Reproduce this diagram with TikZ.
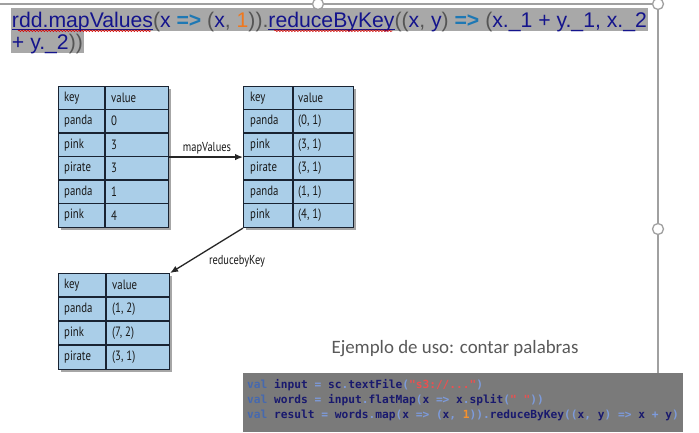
\documentclass[tikz,border=0pt]{standalone}
\usepackage{fontspec}
\setmainfont{Liberation Sans}
\newfontfamily\tabfont[FakeStretch=0.8]{PT Sans}
\newfontfamily\codefont{DejaVu Sans Mono}
\newfontfamily\slidefont{Carlito}
\usetikzlibrary{arrows.meta,shadows,calc,decorations.pathmorphing,backgrounds}
\definecolor{navyt}{RGB}{20,20,140}
\definecolor{grayt}{RGB}{85,85,85}
\definecolor{arrowt}{RGB}{30,120,180}
\definecolor{oranget}{RGB}{240,120,30}
\definecolor{hl}{RGB}{168,168,168}
\definecolor{framec}{RGB}{160,160,160}
\definecolor{tblfill}{RGB}{170,206,232}
\definecolor{tblline}{RGB}{25,35,50}
\definecolor{codebg}{RGB}{122,122,122}
\definecolor{ckw}{RGB}{70,105,175}
\definecolor{cid}{RGB}{25,25,110}
\definecolor{cop}{RGB}{125,155,220}
\definecolor{cstr}{RGB}{235,80,80}
\definecolor{cnum}{RGB}{245,145,45}
\definecolor{ctext}{RGB}{89,89,89}
\tikzset{
  titlepart/.style={inner sep=0pt, outer sep=0pt, anchor=base west, font=\fontsize{21.2}{23}\selectfont},
  handle/.style={circle, draw=framec, fill=white, line width=1.3pt, minimum size=11pt, inner sep=0pt},
  tbl/.style={draw=tblline, line width=1.1pt, fill=tblfill, inner sep=0pt, anchor=north west,
    drop shadow={shadow xshift=2pt, shadow yshift=-2.5pt, opacity=0.35, fill=black}},
  gridline/.style={draw=tblline, line width=1.1pt},
  cell/.style={inner sep=0pt, anchor=west, font=\tabfont\fontsize{13.5}{15}\selectfont, text=black!90},
  lbl/.style={inner sep=0pt, font=\tabfont\fontsize{13}{15}\selectfont, text=black!90},
  conn/.style={line width=1.3pt, draw=black!85, -{Latex[length=8pt,width=6.5pt]}},
  codeline/.style={inner sep=0pt, anchor=base west, font=\codefont\bfseries\fontsize{11.2}{13}\selectfont},
}
\begin{document}
\begin{tikzpicture}[x=1pt,y=-1pt]
\useasboundingbox (0,0) rectangle (699,432);

% title text
\node[titlepart] (ta) at (12,27) {\textcolor{navyt}{rdd.mapValues}};
\node[titlepart] (tb) at (ta.base east) {\textcolor{grayt}{(}\textcolor{navyt}{x} \textcolor{arrowt}{\textbf{=>}} \textcolor{grayt}{(}\textcolor{navyt}{x}\textcolor{grayt}{,} \textcolor{oranget}{1}\textcolor{grayt}{)).}};
\node[titlepart] (tc) at (tb.base east) {\textcolor{navyt}{reduceByKey}};
\node[titlepart] (td) at (tc.base east) {\textcolor{grayt}{((}\textcolor{navyt}{x}\textcolor{grayt}{,} \textcolor{navyt}{y}\textcolor{grayt}{)} \textcolor{arrowt}{\textbf{=>}} \textcolor{grayt}{(}\textcolor{navyt}{x.\_1 + y.\_1, x.\_2}};
\node[titlepart] (te) at (12,49) {\textcolor{navyt}{+ y.\_2}\textcolor{grayt}{))}};
\begin{scope}[on background layer]
  \fill[white] (0,0) rectangle (699,432);
  \fill[hl] ($(ta.base west)+(-1,-19)$) rectangle ($(td.base east)+(1,4)$);
  \fill[hl] ($(te.base west)+(-1,-18)$) rectangle ($(te.base east)+(1,4)$);
\end{scope}
\foreach \w in {ta,tc} {
  \draw[navyt, line width=0.7pt] ($(\w.base west)+(0,2)$) -- ($(\w.base east)+(0,2)$);
  \draw[red!85!black, line width=0.6pt, decorate, decoration={snake, amplitude=0.8pt, segment length=3pt}]
    ($(\w.base west)+(6,3.8)$) -- ($(\w.base east)+(-2,3.8)$);
}

% slide frame
\draw[framec, line width=1.3pt] (0,4) -- (658,4) -- (658,432);
\node[handle] (h1) at (318,4) {};
\node[handle] (h2) at (658,4) {};
\node[handle] (h3) at (658,229) {};

% table 1
\node[tbl, minimum width=110pt, minimum height=141pt] (T1) at (58,86) {};
\draw[gridline] (105,86) -- (105,227);
\foreach \i in {1,...,5} \draw[gridline] (58,{86+23.5*\i}) -- (168,{86+23.5*\i});
\foreach [count=\i from 0] \k/\v in {key/value, panda/0, pink/3, pirate/3, panda/1, pink/4} {
  \node[cell] (T1k\i) at (64,{97.75+23.5*\i}) {\k};
  \node[cell] (T1v\i) at (111,{97.75+23.5*\i}) {\v};
}

% table 2
\node[tbl, minimum width=110pt, minimum height=141pt] (T2) at (243,86) {};
\draw[gridline] (293,86) -- (293,227);
\foreach \i in {1,...,5} \draw[gridline] (243,{86+23.5*\i}) -- (353,{86+23.5*\i});
\foreach [count=\i from 0] \k/\v in {key/value, panda/{(0, 1)}, pink/{(3, 1)}, pirate/{(3, 1)}, panda/{(1, 1)}, pink/{(4, 1)}} {
  \node[cell] (T2k\i) at (250,{97.75+23.5*\i}) {\k};
  \node[cell] (T2v\i) at (298,{97.75+23.5*\i}) {\v};
}

% table 3
\node[tbl, minimum width=111pt, minimum height=96pt] (T3) at (58,273) {};
\draw[gridline] (106,273) -- (106,369);
\foreach \i in {1,...,3} \draw[gridline] (58,{273+24*\i}) -- (169,{273+24*\i});
\foreach [count=\i from 0] \k/\v in {key/value, panda/{(1, 2)}, pink/{(7, 2)}, pirate/{(3, 1)}} {
  \node[cell] (T3k\i) at (64,{285+24*\i}) {\k};
  \node[cell] (T3v\i) at (112,{285+24*\i}) {\v};
}

% connectors
\draw[conn] (T1.east) -- (T2.west);
\node[lbl] (lmv) at (207,148) {mapValues};
\draw[conn] (T2.south west) -- (T3.north east);
\node[lbl] (lrk) at (237,261) {reducebyKey};

% caption
\node[inner sep=0pt, text=ctext, font=\slidefont\fontsize{18.9}{21}\selectfont] (ej) at (455,349) {Ejemplo de uso: contar palabras};

% code box
\node[fill=codebg, minimum width=440pt, minimum height=59pt, inner sep=0pt, anchor=north west] (code) at (243,373) {};
\node[codeline] (c1) at (247,388) {\textcolor{ckw}{val} \textcolor{cid}{input} \textcolor{cop}{=} \textcolor{cid}{sc}\textcolor{cop}{.}\textcolor{cid}{textFile}\textcolor{cop}{(}\textcolor{cstr}{"s3://..."}\textcolor{cop}{)}};
\node[codeline] (c2) at (247,403) {\textcolor{ckw}{val} \textcolor{cid}{words} \textcolor{cop}{=} \textcolor{cid}{input}\textcolor{cop}{.}\textcolor{cid}{flatMap}\textcolor{cop}{(}\textcolor{cid}{x} \textcolor{cop}{=>} \textcolor{cid}{x}\textcolor{cop}{.}\textcolor{cid}{split}\textcolor{cop}{(}\textcolor{cstr}{" "}\textcolor{cop}{))}};
\node[codeline] (c3) at (247,418) {\textcolor{ckw}{val} \textcolor{cid}{result} \textcolor{cop}{=} \textcolor{cid}{words}\textcolor{cop}{.}\textcolor{cid}{map}\textcolor{cop}{(}\textcolor{cid}{x} \textcolor{cop}{=>} \textcolor{cop}{(}\textcolor{cid}{x}\textcolor{cop}{,} \textcolor{cnum}{1}\textcolor{cop}{)).}\textcolor{cid}{reduceByKey}\textcolor{cop}{((}\textcolor{cid}{x}\textcolor{cop}{,} \textcolor{cid}{y}\textcolor{cop}{)} \textcolor{cop}{=>} \textcolor{cid}{x} \textcolor{cop}{+} \textcolor{cid}{y}\textcolor{cop}{)}};
\end{tikzpicture}
\end{document}
